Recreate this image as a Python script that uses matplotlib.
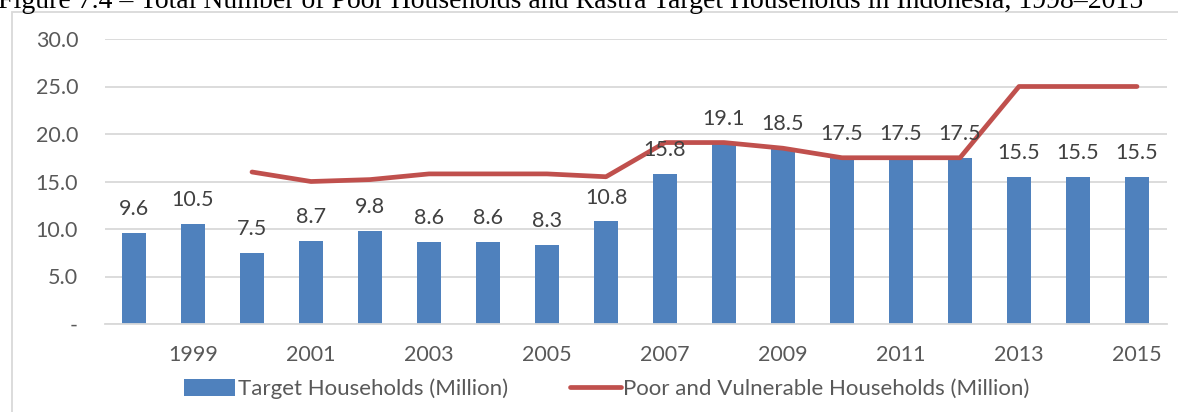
import matplotlib
matplotlib.use('Agg')
import matplotlib.pyplot as plt
from matplotlib.patches import Rectangle
from matplotlib.ticker import FuncFormatter

years = list(range(1998, 2016))
target_households = [9.6, 10.5, 7.5, 8.7, 9.8, 8.6, 8.6, 8.3, 10.8,
                     15.8, 19.1, 18.5, 17.5, 17.5, 17.5, 15.5, 15.5, 15.5]
poor_years = list(range(2000, 2016))
poor_households = [16.0, 15.0, 15.2, 15.8, 15.8, 15.8, 15.5,
                   19.1, 19.1, 18.5, 17.5, 17.5, 17.5, 25.0, 25.0, 25.0]

title = 'Figure 7.4 \u2013 Total Number of Poor Households and Rastra Target Households in Indonesia, 1998\u20132015'

BLUE = '#4f81bd'
RED = '#c0504d'
GRID = '#d9d9d9'
TEXT = '#595959'
FS = 15.5

plt.rcParams['font.family'] = ['Lato', 'DejaVu Sans']

W, H = 1178, 412
fig = plt.figure(figsize=(W / 100, H / 100), dpi=100)

# chart frame
fig.patches.append(Rectangle((12 / W, -0.1), 1.2, 1 - 12 / H + 0.1,
                             transform=fig.transFigure, fill=False,
                             edgecolor=GRID, linewidth=1.3, zorder=0))
fig.text(-0.002, 1 - 8 / H, title, family='Liberation Serif', fontsize=20,
         ha='left', va='baseline', color='black')

ax = fig.add_axes([104.5 / W, 1 - 324 / H, 1062 / W, 285 / H])
ax.set_facecolor('none')

xs = [y - years[0] for y in years]
bars = ax.bar(xs, target_households, width=0.39, color=BLUE, zorder=2,
              label='Target Households (Million)')
for x, v in zip(xs, target_households):
    ax.annotate(f'{v:.1f}', (x, v), xytext=(0, 10), textcoords='offset points',
                ha='center', va='bottom', fontsize=FS, color='#404040', zorder=4)

pxs = [y - years[0] for y in poor_years]
line, = ax.plot(pxs, poor_households, color=RED, linewidth=3.4,
                solid_capstyle='round', solid_joinstyle='round', zorder=3,
                label='Poor and Vulnerable Households (Million)')

ax.set_xlim(-0.5, len(years) - 0.5)
ax.set_ylim(0, 30)
ax.set_yticks([0, 5, 10, 15, 20, 25, 30])
ax.yaxis.set_major_formatter(FuncFormatter(lambda v, p: '-' if v == 0 else f'{v:.1f}'))
odd = [i for i, y in enumerate(years) if y % 2 == 1]
ax.set_xticks(odd)
ax.set_xticklabels([str(years[i]) for i in odd])
ax.tick_params(axis='both', length=0, labelsize=FS, labelcolor=TEXT)
ax.tick_params(axis='y', pad=19)
ax.tick_params(axis='x', pad=15)
ax.grid(axis='y', color=GRID, linewidth=1.3, zorder=0)
ax.set_axisbelow(True)
for s in ['top', 'right', 'left']:
    ax.spines[s].set_visible(False)
ax.spines['bottom'].set_color(GRID)
ax.spines['bottom'].set_linewidth(1.3)

fig.legend([bars, line], [bars.get_label(), line.get_label()],
           loc='center', bbox_to_anchor=(607 / W, 1 - 389 / H), ncol=2,
           frameon=False, fontsize=16, handlelength=2.3, handleheight=0.75,
           handletextpad=0.1, columnspacing=2.8, labelcolor=TEXT)

fig.savefig('out.png', dpi=100)
